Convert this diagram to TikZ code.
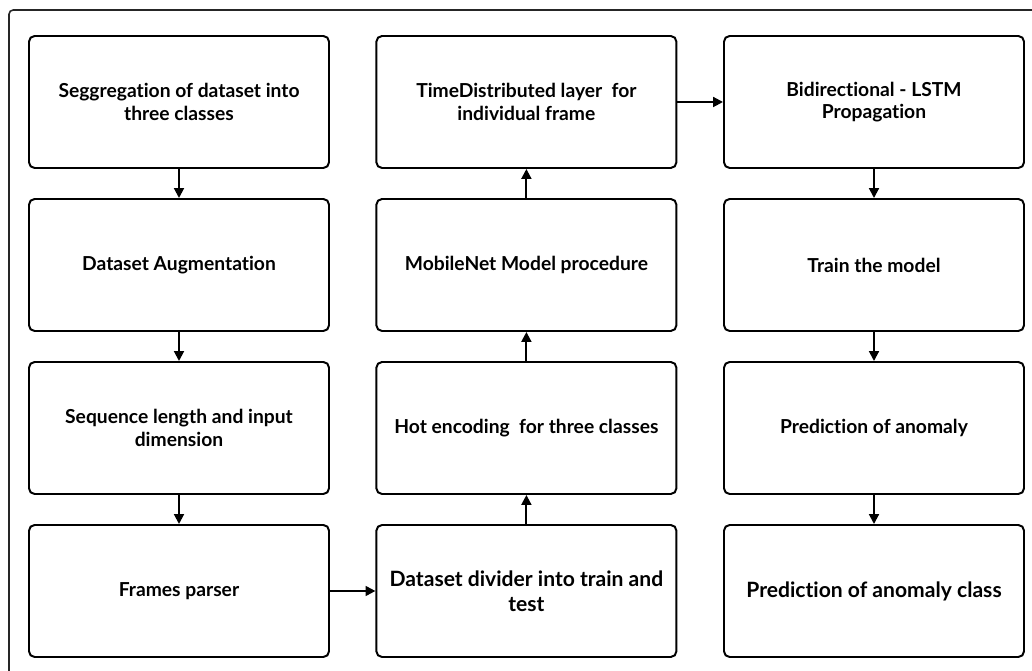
\documentclass[tikz,border=0pt]{standalone}
\usepackage{fontspec}
\setmainfont{Lato}[BoldFont={Lato Bold}, Ligatures={NoCommon}]
\usepackage{tikz}
\usetikzlibrary{positioning,arrows.meta}

\begin{document}
\begin{tikzpicture}[>={Triangle[length=7pt, width=7pt]},
    stage/.style={draw, line width=1.4pt, rounded corners=4pt, minimum width=7.5cm, minimum height=3.3cm, align=center, font=\bfseries\fontsize{13.7}{16}\selectfont},
    bigstage/.style={stage, font=\bfseries\fontsize{15}{17.5}\selectfont},
    flow/.style={->, line width=1.4pt}]
    % Page size and outer frame
    \useasboundingbox (0, 0) rectangle (25.8, 16.775);
    \draw[line width=1.1pt, black!85, rounded corners=3pt] (0.225, 16.525) rectangle (26.5, -1);

    % First column
    \node[stage] (segr) at (4.475, 14.225) {Seggregation of dataset into\\three classes};
    \node[stage] (augm) at (4.475, 10.15) {Dataset Augmentation};
    \node[stage] (seql) at (4.475, 6.075) {Sequence length and input\\dimension};
    \node[stage] (frpa) at (4.475, 2.0) {Frames parser};

    % Second column
    \node[bigstage] (divi) at (13.16, 2.0) {Dataset divider into train and\\test};
    \node[stage] (hotc) at (13.16, 6.075) {Hot encoding\ \ for three classes};
    \node[stage] (mobn) at (13.16, 10.15) {MobileNet Model procedure};
    \node[stage] (tdis) at (13.16, 14.225) {TimeDistributed layer\ \ for\\individual frame};

    % Third column
    \node[stage] (blst) at (21.85, 14.225) {Bidirectional - LSTM\\Propagation};
    \node[stage] (trai) at (21.85, 10.15) {Train the model};
    \node[stage] (pred) at (21.85, 6.075) {Prediction of anomaly};
    \node[bigstage] (prcl) at (21.85, 2.0) {Prediction of anomaly class};

    % Connectors
    \draw[flow] (segr) -- (augm);
    \draw[flow] (augm) -- (seql);
    \draw[flow] (seql) -- (frpa);
    \draw[flow] (frpa) -- (divi);
    \draw[flow] (divi) -- (hotc);
    \draw[flow] (hotc) -- (mobn);
    \draw[flow] (mobn) -- (tdis);
    \draw[flow] (tdis) -- (blst);
    \draw[flow] (blst) -- (trai);
    \draw[flow] (trai) -- (pred);
    \draw[flow] (pred) -- (prcl);
\end{tikzpicture}
\end{document}
